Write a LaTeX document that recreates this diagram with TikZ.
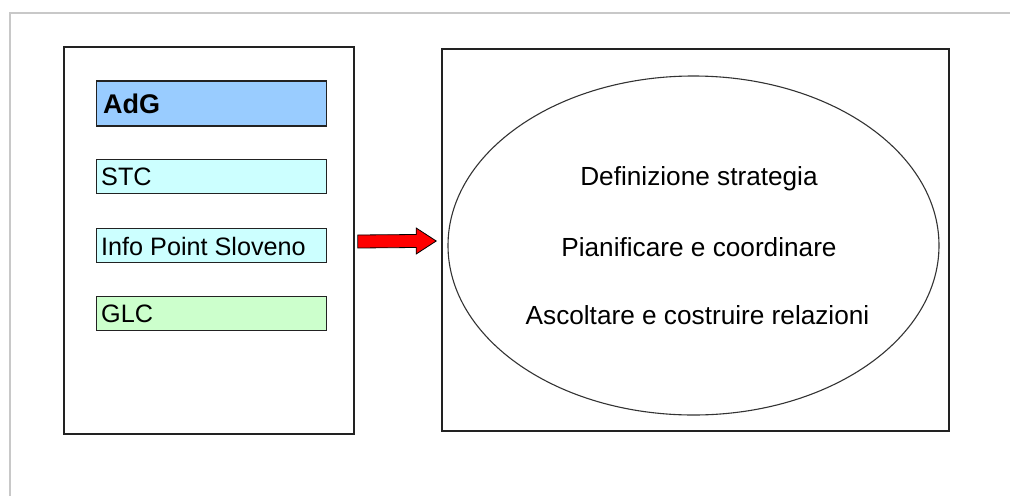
\documentclass[tikz,border=0pt]{standalone}
\usepackage{fontspec}
\setmainfont{Liberation Sans}
\usetikzlibrary{calc,shapes.geometric}
\definecolor{framegray}{HTML}{C8C8C8}
\definecolor{adgblue}{HTML}{99CCFF}
\definecolor{lightcyan}{HTML}{CCFFFF}
\definecolor{lightgreen}{HTML}{CCFFCC}
\definecolor{linedark}{HTML}{222222}
\tikzset{
  outerbox/.style={draw=linedark, line width=1.6pt, inner sep=0pt},
  itembox/.style={draw=linedark, line width=1.4pt, minimum width=230, minimum height=34,
    inner sep=0pt},
  itemtext/.style={anchor=west, inner sep=0pt, font=\fontsize{25.2}{27}\selectfont},
  ellbox/.style={ellipse, draw=black!80, line width=1.1pt, inner sep=0pt},
  elltext/.style={inner sep=0pt, font=\fontsize{26.2}{28}\selectfont},
  redarrow/.style={fill=red, draw=black, line width=0.8pt, line join=miter}
}
\begin{document}
\begin{tikzpicture}[x=1pt,y=-1pt]
\useasboundingbox (0,0) rectangle (1010,496);
\draw[framegray, line width=1.2pt] (1010,13) -- (10,13) -- (10,496);

% left container
\node[outerbox, minimum width=290, minimum height=387] (L) at (209,240.5) {};
\node[itembox, fill=adgblue, minimum height=45] (adg) at (211.5,103.5) {};
\node[itemtext, font=\fontsize{27}{29}\selectfont\bfseries] (adgt) at (103,104) {AdG};
\node[itembox, fill=lightcyan] (stc) at (211.5,176.5) {};
\node[itemtext] (stct) at (101,177) {STC};
\node[itembox, fill=lightcyan] (ips) at (211.5,245.5) {};
\node[itemtext] (ipst) at (101,246) {Info Point Sloveno};
\node[itembox, fill=lightgreen] (glc) at (211.5,313.5) {};
\node[itemtext] (glct) at (101,314) {GLC};

% right container
\node[outerbox, minimum width=507, minimum height=382] (R) at (695.5,240) {};
\node[ellbox, minimum width=491, minimum height=339] (E) at (693.5,245.5) {};
\node[elltext] (t1) at (699,179) {Definizione strategia};
\node[elltext] (t2) at (699,247) {Pianificare e coordinare};
\node[elltext] (t3) at (697.5,315) {Ascoltare e costruire relazioni};

% block arrow from L to R
\coordinate (a0) at ($(L.east)+(3,1)$);
\coordinate (a1) at ($(R.west)+(-5,1)$);
\draw[redarrow] ($(a0)+(0,-6.5)$) -- ($(a1)+(-20,-6.5)$) -- ($(a1)+(-20,-13)$)
  -- (a1) -- ($(a1)+(-20,13)$) -- ($(a1)+(-20,6.5)$) -- ($(a0)+(0,6.5)$) -- cycle;
\end{tikzpicture}
\end{document}
